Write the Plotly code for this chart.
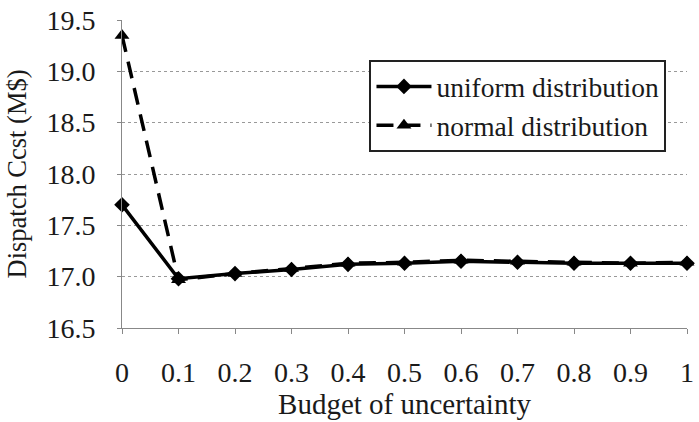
import plotly.graph_objects as go

budget = [0, 0.1, 0.2, 0.3, 0.4, 0.5, 0.6, 0.7, 0.8, 0.9, 1.0]
tick_labels = ["0", "0.1", "0.2", "0.3", "0.4", "0.5", "0.6", "0.7", "0.8", "0.9", "1"]
uniform_cost = [17.70, 16.98, 17.03, 17.07, 17.12, 17.13, 17.15, 17.14, 17.13, 17.13, 17.13]
normal_cost = [19.35, 16.97, 17.03, 17.08, 17.13, 17.14, 17.16, 17.15, 17.14, 17.13, 17.14]

FONT = "'Liberation Serif', 'Times New Roman', serif"

fig = go.Figure()
fig.add_trace(go.Scatter(
    x=budget, y=uniform_cost, name="uniform distribution", mode="lines+markers",
    line=dict(color="black", width=3.5), marker=dict(symbol="diamond", size=12, color="black"),
    cliponaxis=False))
fig.add_trace(go.Scatter(
    x=budget, y=normal_cost, name="normal distribution", mode="lines+markers",
    line=dict(color="black", width=3.5, dash="17px,10px"), marker=dict(symbol="triangle-up", size=13, color="black"),
    cliponaxis=False))

fig.update_layout(
    width=699, height=422,
    margin=dict(l=122, r=5, t=15, b=94),
    paper_bgcolor="white", plot_bgcolor="white",
    font=dict(family=FONT, size=27, color="#1a1a1a"),
    legend=dict(x=0.438, y=0.87, xanchor="left", yanchor="top",
                bordercolor="#222", borderwidth=2, bgcolor="white",
                font=dict(family=FONT, size=27.5), itemwidth=55, tracegroupgap=0),
    showlegend=True,
)
fig.update_xaxes(
    range=[0, 1], tickvals=budget, ticktext=tick_labels,
    showgrid=False, zeroline=False,
    showline=True, linecolor="#888", linewidth=1,
    ticks="outside", ticklen=5, tickcolor="#888",
    tickfont=dict(family=FONT, size=28),
    ticklabelstandoff=14, ticklabeloverflow="allow",
    title=dict(text="Budget of uncertainty", standoff=0, font=dict(family=FONT, size=29)),
)
fig.update_yaxes(
    range=[16.5, 19.5], tickvals=[16.5, 17.0, 17.5, 18.0, 18.5, 19.0, 19.5],
    ticktext=["16.5", "17.0", "17.5", "18.0", "18.5", "19.0", "19.5"],
    showgrid=True, gridcolor="#999", griddash="dot", gridwidth=1,
    zeroline=False, showline=True, linecolor="#888", linewidth=1,
    ticks="outside", ticklen=4, tickcolor="#888",
    tickfont=dict(family=FONT, size=28),
    ticklabelstandoff=16, ticklabeloverflow="allow",
    title=dict(text="Dispatch Ccst (M$)", standoff=12, font=dict(family=FONT, size=26.5)),
)

fig.write_html("out.html")
